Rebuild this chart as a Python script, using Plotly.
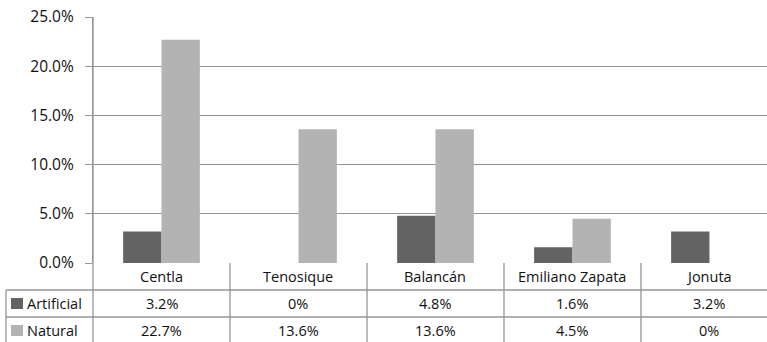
import plotly.graph_objects as go

# Municipalities and share of each origin type (%)
municipios = ["Centla", "Tenosique", "Balancán", "Emiliano Zapata", "Jonuta"]
artificial = [3.2, 0, 4.8, 1.6, 3.2]
natural = [22.7, 13.6, 13.6, 4.5, 0]
series_names = ["Artificial", "Natural"]
series_colors = ["#636363", "#b3b3b3"]
y_ticks = [0, 5, 10, 15, 20, 25]

W, H = 767, 342
ML, MR, MT, MB = 93, 0, 17, 79
X_RANGE = [-0.5, 4.42]
Y_RANGE = [0, 25]
FONT = "Open Sans"
GRID = "#969696"
TXT = "#111111"
TABLE_SIZE = 14.5
TICK_SIZE = 15.5

plot_w = W - ML - MR
plot_h = H - MT - MB


def px_x(px):
    return (px - ML) / plot_w


def px_y(py):
    return (H - MB - py) / plot_h


def cat_x(v):
    return (v - X_RANGE[0]) / (X_RANGE[1] - X_RANGE[0])


xs = list(range(len(municipios)))
fig = go.Figure()
for name, vals, col in zip(series_names, [artificial, natural], series_colors):
    fig.add_trace(go.Bar(x=xs, y=vals, name=name, marker=dict(color=col, line=dict(width=0)),
                         showlegend=False))

shapes = []
annotations = []
line = dict(color=GRID, width=1.3)

# table row boundaries (pixel rows below the 0% baseline)
row_top = H - MB
row_h = 27
rows_y = [row_top + row_h * i for i in range(4)]

# horizontal rules of the data table
for r in rows_y[1:3]:
    shapes.append(dict(type="line", xref="paper", yref="paper", x0=px_x(6), x1=1.0,
                       y0=px_y(r), y1=px_y(r), line=line))
# left border of the legend column
shapes.append(dict(type="line", xref="paper", yref="paper", x0=px_x(6), x1=px_x(6),
                   y0=px_y(rows_y[1]), y1=px_y(H + 5), line=line))
# y-axis line continuing through the table
shapes.append(dict(type="line", xref="paper", yref="paper", x0=0, x1=0,
                   y0=1, y1=px_y(H + 5), line=line))
# column separators
for k in range(1, len(municipios) + 1):
    xp = cat_x(k - 0.5)
    shapes.append(dict(type="line", xref="paper", yref="paper", x0=xp, x1=xp,
                       y0=0, y1=px_y(H + 5), line=line))

# category header row
for i, m in enumerate(municipios):
    annotations.append(dict(x=i, xref="x", yref="paper", y=px_y((rows_y[0] + rows_y[1]) / 2),
                            text=m, showarrow=False,
                            font=dict(family=FONT, size=TABLE_SIZE, color=TXT),
                            xanchor="center", yanchor="middle"))

# value rows with legend keys
for r, (name, vals, col) in enumerate(zip(series_names, [artificial, natural], series_colors)):
    cy = (rows_y[r + 1] + rows_y[r + 2]) / 2
    shapes.append(dict(type="rect", xref="paper", yref="paper", x0=px_x(11), x1=px_x(23),
                       y0=px_y(cy + 5.5), y1=px_y(cy - 5.5), fillcolor=col, line=dict(width=0)))
    annotations.append(dict(x=px_x(25), xref="paper", yref="paper", y=px_y(cy), text=name,
                            showarrow=False, font=dict(family=FONT, size=TABLE_SIZE, color=TXT),
                            xanchor="left", yanchor="middle"))
    for i, v in enumerate(vals):
        annotations.append(dict(x=i, xref="x", yref="paper", y=px_y(cy), text=f"{v:g}%",
                                showarrow=False,
                                font=dict(family=FONT, size=TABLE_SIZE, color=TXT),
                                xanchor="center", yanchor="middle"))

fig.update_layout(
    width=W, height=H,
    margin=dict(l=ML, r=MR, t=MT, b=MB, pad=0),
    paper_bgcolor="white", plot_bgcolor="white",
    barmode="group", bargap=0.44, bargroupgap=0,
    font=dict(family=FONT, size=TABLE_SIZE, color=TXT),
    xaxis=dict(range=X_RANGE, showticklabels=False, showgrid=False, zeroline=False,
               ticks="", showline=False, fixedrange=True),
    yaxis=dict(range=Y_RANGE, tickvals=y_ticks, ticktext=[f"{t:.1f}%" for t in y_ticks],
               showgrid=True, gridcolor=GRID, gridwidth=1.3, zeroline=False,
               showline=True, linecolor=GRID, linewidth=1.3,
               ticks="outside", ticklen=7, tickcolor=GRID, tickwidth=1.3,
               ticklabelstandoff=8, tickfont=dict(family=FONT, size=TICK_SIZE, color=TXT),
               fixedrange=True),
    shapes=shapes, annotations=annotations,
)

fig.write_html("out.html")
